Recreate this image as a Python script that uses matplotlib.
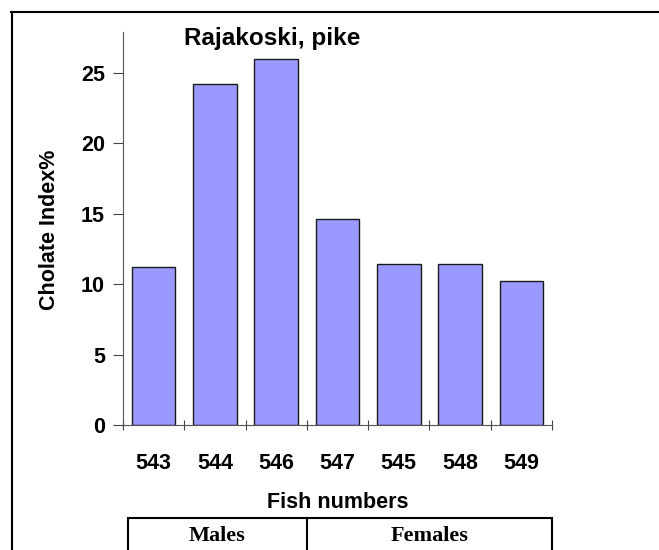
import matplotlib.pyplot as plt
from matplotlib.patches import Rectangle
from matplotlib.lines import Line2D
import matplotlib.transforms as mtransforms

fish = ["543", "544", "546", "547", "545", "548", "549"]
cholate = [11.2, 24.2, 26.0, 14.6, 11.4, 11.4, 10.2]
groups = ["Males", "Females"]
group_sizes = [3, 4]

W, H = 659, 550
fig = plt.figure(figsize=(W / 100, H / 100), dpi=100)
ax = fig.add_axes([123 / W, 1 - 425 / H, (552 - 123) / W, (425 - 32) / H])

x = range(len(fish))
ax.bar(x, cholate, width=0.71, color="#9999FF", edgecolor="#1a1a1a", linewidth=1.0)

ax.set_xlim(-0.5, len(fish) - 0.5)
ax.set_ylim(0, 27.9)
ax.set_yticks([0, 5, 10, 15, 20, 25])
ax.set_xticks([i - 0.5 for i in range(len(fish) + 1)], minor=False)
ax.set_xticklabels([])
ax.set_xticks(list(x), minor=True)
ax.set_xticklabels(fish, minor=True)
ax.tick_params(axis="x", which="minor", length=0, pad=20, labelsize=15.5)
ax.tick_params(axis="x", which="major", length=7, direction="inout", color="#444444")
ax.tick_params(axis="y", length=7, direction="out", color="#444444", labelsize=15.5, pad=6)
for lab in ax.get_xticklabels(minor=True) + ax.get_yticklabels():
    lab.set_fontweight("bold")
    lab.set_fontfamily("Liberation Sans")

for s in ["top", "right"]:
    ax.spines[s].set_visible(False)
ax.spines["left"].set_color("#555555")
ax.spines["bottom"].set_color("#555555")

fig.text(50 / W, 1 - 230 / H, "Cholate Index%", rotation=90, ha="center", va="center",
         fontsize=15.5, fontweight="bold", family="Liberation Sans")
fig.text(272 / W, 1 - 39 / H, "Rajakoski, pike", ha="center", va="center",
         fontsize=17.5, fontweight="bold", family="Liberation Sans")
fig.text((123 + 552) / 2 / W, 1 - 503 / H,
         "Fish numbers", ha="center", va="center", fontsize=15.5, fontweight="bold",
         family="Liberation Sans")

# group table under the axis
trans = mtransforms.blended_transform_factory(ax.transData, fig.transFigure)
top = 1 - 518 / H
bottom = -0.05
edges = [-0.42]
pos = -0.5
for n in group_sizes:
    pos += n
    edges.append(pos)
edges[-1] = 6.5
fig.add_artist(Rectangle((edges[0], bottom), edges[-1] - edges[0], top - bottom,
                         transform=trans, fill=False, edgecolor="black", linewidth=1.5,
                         clip_on=False))
for e in edges[1:-1]:
    fig.add_artist(Line2D([e, e], [bottom, top], transform=trans, color="black",
                          linewidth=1.5))
for g, a, b in zip(groups, edges[:-1], edges[1:]):
    fig.text((a + b) / 2, 1 - 536 / H, g, transform=trans, ha="center", va="center",
             fontsize=16, fontweight="bold", family="Liberation Serif")

# outer frame (top and left visible)
fig.add_artist(Line2D([11 / W, 1.0], [1 - 11.5 / H, 1 - 11.5 / H], transform=fig.transFigure,
                      color="black", linewidth=1.5))
fig.add_artist(Line2D([11.5 / W, 11.5 / W], [0, 1 - 11.5 / H], transform=fig.transFigure,
                      color="black", linewidth=1.5))

fig.savefig("out.png", dpi=100)
